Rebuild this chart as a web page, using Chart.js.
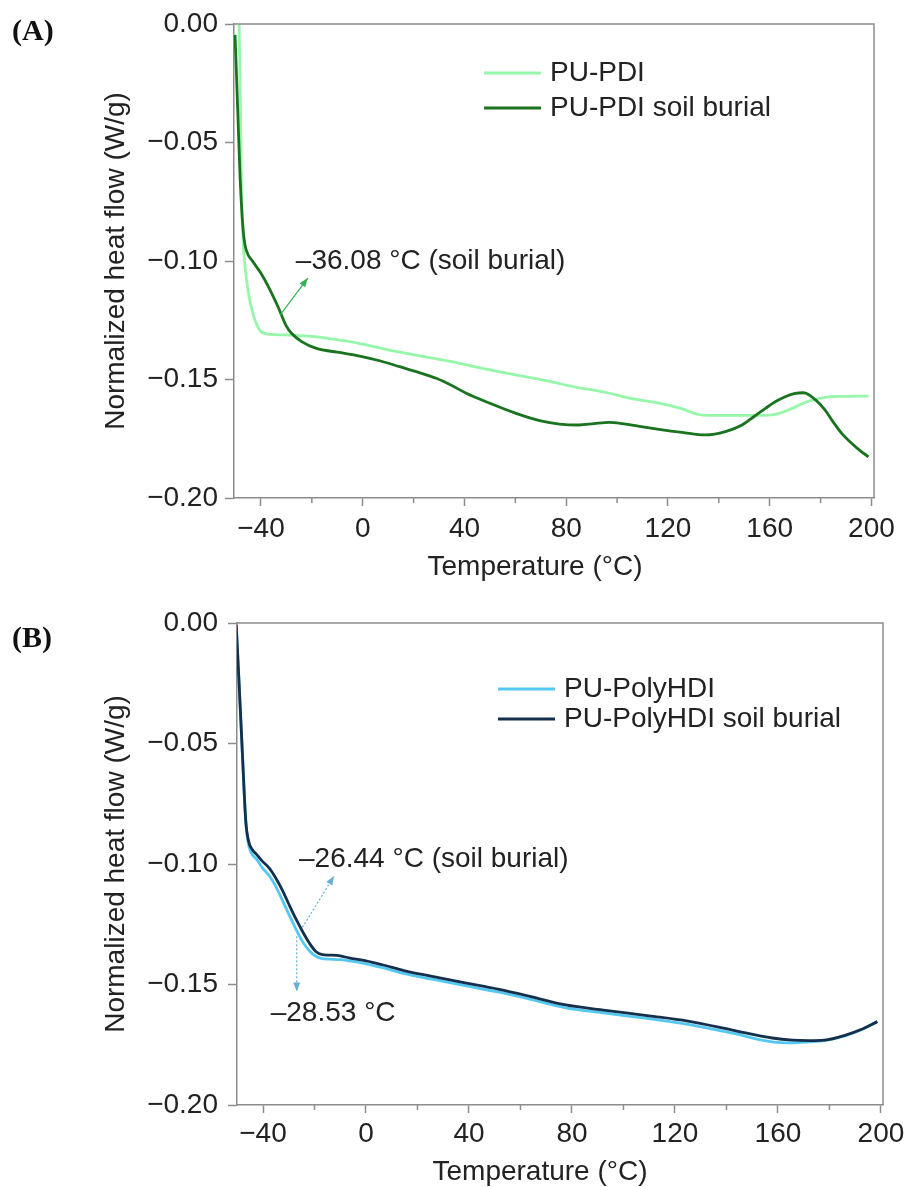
<!DOCTYPE html>
<html>
<head>
<meta charset="utf-8">
<script src="https://cdn.jsdelivr.net/npm/chart.js@4.4.1/dist/chart.umd.min.js"></script>
<style>
  body { margin: 0; background: #fff; width: 910px; height: 1187px; position: relative; overflow: hidden; }
  .panel { position: absolute; left: 0; width: 910px; }
  #panelA { top: 0; height: 590px; }
  #panelB { top: 595px; height: 592px; }
  .tag { position: absolute; left: 12px; font: bold 30px 'Liberation Serif', 'Times New Roman', serif; line-height: 30px; color: #111; }
</style>
</head>
<body>
<div class="panel" id="panelA"><canvas id="chartA"></canvas></div>
<div class="panel" id="panelB"><canvas id="chartB"></canvas></div>
<div class="tag" style="top:15px">(A)</div>
<div class="tag" style="top:622px">(B)</div>
<script>
// Axis ticks
const xTicks = [-40, 0, 40, 80, 120, 160, 200];
const xMinorTicks = [-20, 20, 60, 100, 140, 180];
const yTicks = [0, -0.05, -0.10, -0.15, -0.20];

// (A) PU-PDI
const pdiTemp = [-48.6, -48.0, -47.6, -47.1, -46.2, -45.0, -43.9, -42.0, -40.0, -36.0, -31.0, -25.0, -18.0, -11.6, -5.0, 1.4, 10, 21, 35, 47, 60, 72, 85, 90.3, 97, 103.4, 110, 116.5, 125, 133.5, 143, 153, 160, 163, 168.8, 175, 181.8, 190, 198.8];
const pdiFlow = [0.000, -0.040, -0.075, -0.090, -0.103, -0.113, -0.119, -0.126, -0.1298, -0.1310, -0.1312, -0.1315, -0.1320, -0.1330, -0.1340, -0.1354, -0.1375, -0.1397, -0.1425, -0.1453, -0.1480, -0.1505, -0.1535, -0.1544, -0.1558, -0.1575, -0.1588, -0.1600, -0.1622, -0.1650, -0.1651, -0.1651, -0.1650, -0.1645, -0.1622, -0.1592, -0.1575, -0.1571, -0.1570];

// (A) PU-PDI soil burial
const pdiSoilTemp = [-50.2, -49.6, -49.0, -48.2, -47.3, -46.6, -45.8, -43.0, -40.0, -37.0, -33.3, -30.0, -28.0, -24.0, -18.2, -10.0, -1.2, 7, 14.5, 22, 28.9, 35, 40.7, 50, 60.3, 70, 77.3, 85, 91, 96.9, 102, 107.3, 116.5, 125.6, 134.8, 142.6, 149.1, 154, 158.3, 162, 166.1, 170, 173.3, 177.9, 181.8, 185, 188.3, 192.2, 195.5, 198.8];
const pdiSoilFlow = [-0.0046, -0.022, -0.0405, -0.065, -0.0827, -0.091, -0.0954, -0.1005, -0.1052, -0.1110, -0.1193, -0.1275, -0.1305, -0.1340, -0.1369, -0.1385, -0.1401, -0.1422, -0.1446, -0.1470, -0.1495, -0.1525, -0.1558, -0.1600, -0.1643, -0.1675, -0.1688, -0.1692, -0.1686, -0.1681, -0.1686, -0.1695, -0.1710, -0.1723, -0.1734, -0.1720, -0.1692, -0.1655, -0.1622, -0.1595, -0.1573, -0.1559, -0.1556, -0.1585, -0.1629, -0.1680, -0.1727, -0.1769, -0.1800, -0.1826];

// (B) PU-PolyHDI
const hdiTemp = [-50.4, -49.2, -48.0, -46.7, -45.8, -44.5, -42.5, -40.3, -37.5, -35.1, -32.5, -29.9, -27.3, -24.7, -22.0, -19.5, -17.0, -14.4, -10.0, -6.6, 0, 6.3, 15, 25.7, 38, 51.7, 64, 77.6, 93, 109.9, 125, 142.3, 157.8, 165.6, 172, 178, 186.3, 192, 198.6];
const hdiFlow = [-0.0008, -0.027, -0.0543, -0.0821, -0.0910, -0.0955, -0.0980, -0.1015, -0.1050, -0.1092, -0.1150, -0.1210, -0.1268, -0.1321, -0.1360, -0.1383, -0.1393, -0.1395, -0.1397, -0.1402, -0.1414, -0.1430, -0.1455, -0.1478, -0.1504, -0.1532, -0.1562, -0.1597, -0.1619, -0.1642, -0.1665, -0.1702, -0.1738, -0.1742, -0.1738, -0.1733, -0.1712, -0.1690, -0.1654];

// (B) PU-PolyHDI soil burial
const hdiSoilTemp = [-50.4, -49.2, -48.0, -46.7, -45.6, -44.2, -42.5, -40.3, -37.5, -35.1, -32.5, -29.9, -27.3, -24.7, -22.0, -19.5, -17.0, -14.4, -10.0, -6.6, 0, 6.3, 15, 25.7, 38, 51.7, 64, 77.6, 93, 109.9, 125, 142.3, 157.8, 165.6, 172, 178, 186.3, 192, 198.6];
const hdiSoilFlow = [-0.0008, -0.027, -0.0543, -0.0821, -0.0905, -0.0940, -0.0960, -0.0988, -0.1018, -0.1057, -0.1108, -0.1168, -0.1226, -0.1279, -0.1328, -0.1363, -0.1376, -0.1378, -0.1381, -0.1390, -0.1402, -0.1418, -0.1443, -0.1466, -0.1492, -0.1520, -0.1550, -0.1585, -0.1607, -0.1630, -0.1652, -0.1689, -0.1722, -0.1731, -0.1733, -0.1731, -0.1710, -0.1688, -0.1654];

// Glass transition call-outs: label, label anchor, arrow tail, arrow head
const notesA = [
  { text: '–36.08 °C (soil burial)', at: [-26.3, -0.1003], from: [-32.5, -0.1228], to: [-21.6, -0.1072], color: '#34b155', dash: [] }
];
const notesB = [
  { text: '–26.44 °C (soil burial)', at: [-26.0, -0.0981], from: [-24.7, -0.1263], to: [-12.4, -0.1050], color: '#6aaed6', dash: [2, 2] },
  { text: '–28.53 °C', at: [-37.0, -0.1621], from: [-26.9, -0.1300], to: [-26.9, -0.1529], color: '#6aaed6', dash: [2, 2] }
];

const FONT = "'Liberation Sans', Arial, sans-serif";
const TEXT = '#222';
const AXIS = '#8c8c8c';

function series(temp, flow) {
  return temp.map((t, i) => ({ x: t, y: flow[i] }));
}

function fmtMinus(s) {
  return s.replace('-', '−');
}

// top/right edges of the frame plus the short unlabelled x ticks
const frame = {
  id: 'frame',
  afterDraw(chart) {
    const { ctx, chartArea: a, scales } = chart;
    ctx.save();
    ctx.strokeStyle = AXIS;
    ctx.lineWidth = 1.5;
    ctx.beginPath();
    ctx.moveTo(a.left, a.top);
    ctx.lineTo(a.right, a.top);
    ctx.lineTo(a.right, a.bottom);
    xMinorTicks.forEach(v => {
      const px = scales.x.getPixelForValue(v);
      ctx.moveTo(px, a.bottom);
      ctx.lineTo(px, a.bottom + 5);
    });
    ctx.stroke();
    ctx.restore();
  }
};

const xTitle = {
  id: 'xTitle',
  afterDraw(chart, args, opts) {
    const { ctx, chartArea: a } = chart;
    ctx.save();
    ctx.font = '28px ' + FONT;
    ctx.fillStyle = TEXT;
    ctx.textAlign = 'center';
    ctx.textBaseline = 'middle';
    ctx.fillText(opts.text, (a.left + a.right) / 2 + opts.dx, a.bottom + opts.dy);
    ctx.restore();
  }
};

const legendBox = {
  id: 'legendBox',
  afterDraw(chart, args, opts) {
    const { ctx, chartArea: a } = chart;
    ctx.save();
    ctx.font = '28px ' + FONT;
    ctx.textBaseline = 'middle';
    chart.data.datasets.forEach((ds, i) => {
      const x = a.left + opts.left;
      const y = a.top + opts.top + i * opts.gap;
      ctx.strokeStyle = ds.borderColor;
      ctx.lineWidth = 3;
      ctx.beginPath();
      ctx.moveTo(x, y);
      ctx.lineTo(x + 57, y);
      ctx.stroke();
      ctx.fillStyle = TEXT;
      ctx.fillText(ds.label, x + 66, y);
    });
    ctx.restore();
  }
};

const callouts = {
  id: 'callouts',
  afterDraw(chart, args, opts) {
    const { ctx, scales: { x, y } } = chart;
    const px = p => [x.getPixelForValue(p[0]), y.getPixelForValue(p[1])];
    ctx.save();
    opts.notes.forEach(n => {
      const [x0, y0] = px(n.from);
      const [x1, y1] = px(n.to);
      ctx.strokeStyle = n.color;
      ctx.fillStyle = n.color;
      ctx.lineWidth = 1.2;
      ctx.setLineDash(n.dash);
      ctx.beginPath();
      ctx.moveTo(x0, y0);
      ctx.lineTo(x1, y1);
      ctx.stroke();
      ctx.setLineDash([]);
      const ang = Math.atan2(y1 - y0, x1 - x0);
      ctx.beginPath();
      ctx.moveTo(x1, y1);
      ctx.lineTo(x1 - 9 * Math.cos(ang) + 3.5 * Math.sin(ang), y1 - 9 * Math.sin(ang) - 3.5 * Math.cos(ang));
      ctx.lineTo(x1 - 9 * Math.cos(ang) - 3.5 * Math.sin(ang), y1 - 9 * Math.sin(ang) + 3.5 * Math.cos(ang));
      ctx.closePath();
      ctx.fill();
      const [tx, ty] = px(n.at);
      ctx.font = '28px ' + FONT;
      ctx.fillStyle = TEXT;
      ctx.textBaseline = 'middle';
      ctx.fillText(n.text, tx, ty);
    });
    ctx.restore();
  }
};

function makeChart(id, sets, cfg) {
  return new Chart(document.getElementById(id), {
    type: 'line',
    data: {
      datasets: sets.map(s => ({
        label: s.label,
        data: s.data,
        borderColor: s.color,
        borderWidth: 2.8,
        pointRadius: 0,
        fill: false,
        cubicInterpolationMode: 'monotone',
        order: s.order
      }))
    },
    options: {
      responsive: true,
      maintainAspectRatio: false,
      animation: false,
      events: [],
      layout: { padding: { left: 80, right: cfg.right, top: cfg.top, bottom: 0 } },
      plugins: {
        legend: { display: false },
        tooltip: { enabled: false },
        legendBox: cfg.legend,
        callouts: { notes: cfg.notes },
        xTitle: { text: 'Temperature (°C)', dx: cfg.titleDx, dy: cfg.titleDy }
      },
      scales: {
        x: {
          type: 'linear',
          min: cfg.xMin,
          max: cfg.xMax,
          afterBuildTicks: s => { s.ticks = xTicks.map(v => ({ value: v })); },
          afterFit: s => { s.height = cfg.xHeight; },
          grid: { drawOnChartArea: false, tickLength: 8, tickColor: AXIS, tickWidth: 1.5 },
          border: { color: AXIS, width: 1.5 },
          ticks: { font: { family: FONT, size: 28 }, color: TEXT, padding: cfg.xPad, maxRotation: 0, callback: v => fmtMinus(String(v)) }
        },
        y: {
          min: -0.2,
          max: 0,
          afterBuildTicks: s => { s.ticks = yTicks.map(v => ({ value: v })); },
          afterFit: s => { s.width = cfg.yWidth; },
          grid: { drawOnChartArea: false, tickLength: 9, tickColor: AXIS, tickWidth: 1.5 },
          border: { color: AXIS, width: 1.5 },
          ticks: { font: { family: FONT, size: 28 }, color: TEXT, padding: cfg.yPad, callback: v => fmtMinus(v.toFixed(2)) },
          title: { display: true, text: 'Normalized heat flow (W/g)', font: { family: FONT, size: 28 }, color: TEXT, padding: { top: 19, bottom: 0 } }
        }
      }
    },
    plugins: [frame, legendBox, callouts, xTitle]
  });
}

makeChart('chartA', [
  { label: 'PU-PDI', data: series(pdiTemp, pdiFlow), color: '#96f6aa', order: 2 },
  { label: 'PU-PDI soil burial', data: series(pdiSoilTemp, pdiSoilFlow), color: '#19731f', order: 1 }
], {
  xMin: -50.6, xMax: 201, right: 36, top: 24, xHeight: 92, yWidth: 154,
  xPad: 6, yPad: 7, titleDx: -19, titleDy: 69,
  legend: { left: 250, top: 49, gap: 35 },
  notes: notesA
});

makeChart('chartB', [
  { label: 'PU-PolyHDI', data: series(hdiTemp, hdiFlow), color: '#55c8f2', order: 2 },
  { label: 'PU-PolyHDI soil burial', data: series(hdiSoilTemp, hdiSoilFlow), color: '#15304d', order: 1 }
], {
  xMin: -50.1, xMax: 200.8, right: 27, top: 28, xHeight: 82, yWidth: 157,
  xPad: 4, yPad: 10, titleDx: -20, titleDy: 67,
  legend: { left: 261, top: 66, gap: 30 },
  notes: notesB
});
</script>
</body>
</html>
